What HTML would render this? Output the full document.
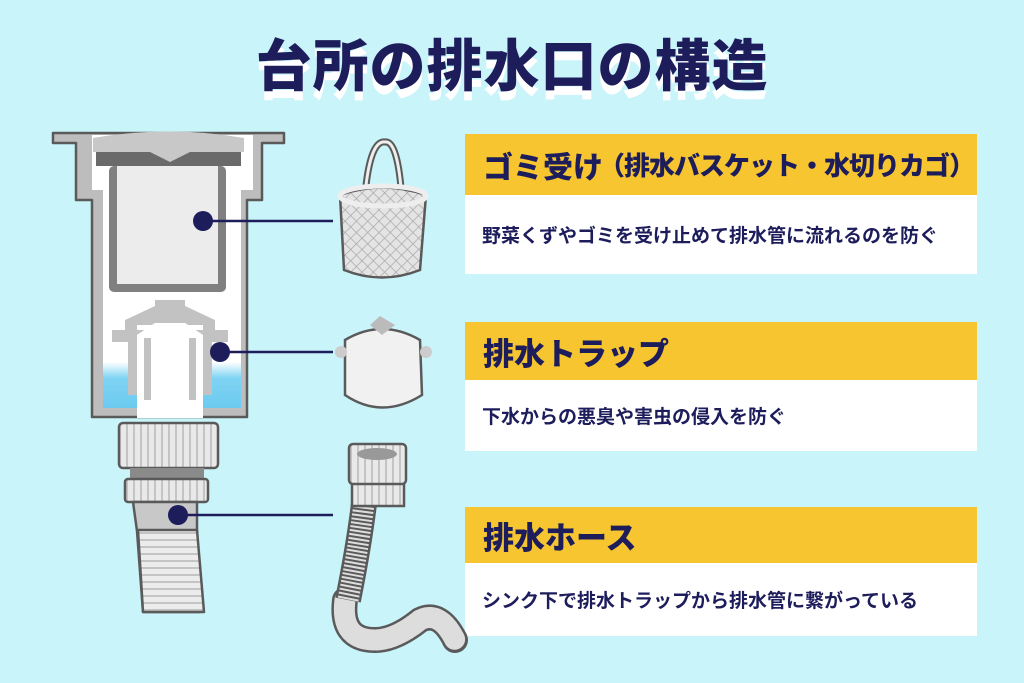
<!DOCTYPE html>
<html><head><meta charset="utf-8"><style>
html,body{margin:0;padding:0}
body{width:1024px;height:683px;background:#c9f4f9;position:relative;overflow:hidden;font-family:"Liberation Sans","Noto Sans CJK JP",sans-serif}
.title{position:absolute;left:0;width:1024px;top:22px;text-align:center;font-size:56px;font-weight:900;color:#1e1d5c;letter-spacing:1px;text-shadow:0 9px 0 #fff}
.hd{position:absolute;left:465px;width:512px;background:#f6c52f;color:#1e1d5c;font-weight:900;box-sizing:border-box;padding-left:18px;display:flex;align-items:center;white-space:nowrap}
.bd{position:absolute;left:465px;width:512px;background:#fff;color:#1e1d5c;font-size:19px;font-weight:bold;box-sizing:border-box;padding-left:17px;display:flex;align-items:center;white-space:nowrap}
</style></head><body>
<div class="title">台所の排水口の構造</div>

<div class="hd" style="top:134px;height:61px;font-size:30px">ゴミ受け<span style="font-size:26px;letter-spacing:-1px;margin-left:-4px">（排水バスケット・水切りカゴ）</span></div>
<div class="bd" style="top:195px;height:79px">野菜くずやゴミを受け止めて排水管に流れるのを防ぐ</div>

<div class="hd" style="top:322px;height:58px;font-size:31px">排水トラップ</div>
<div class="bd" style="top:380px;height:71px">下水からの悪臭や害虫の侵入を防ぐ</div>

<div class="hd" style="top:507px;height:56px;font-size:31px">排水ホース</div>
<div class="bd" style="top:563px;height:73px">シンク下で排水トラップから排水管に繋がっている</div>

<svg width="1024" height="683" style="position:absolute;left:0;top:0">
<defs>
<linearGradient id="w" x1="0" y1="0" x2="0" y2="1"><stop offset="0" stop-color="#fff"/><stop offset="0.35" stop-color="#7fd3f3"/><stop offset="1" stop-color="#6ccaf0"/></linearGradient>
<pattern id="mesh" width="8" height="8" patternUnits="userSpaceOnUse" patternTransform="rotate(45)"><rect width="8" height="8" fill="#e4e4e4"/><path d="M0 0H8M0 0V8" stroke="#aaa" stroke-width="1.5"/></pattern>
<pattern id="rib" width="7" height="10" patternUnits="userSpaceOnUse"><rect width="7" height="10" fill="#e9e9e9"/><rect width="2" height="10" fill="#c4c4c4"/></pattern>
<pattern id="hrib" width="10" height="7" patternUnits="userSpaceOnUse"><rect width="10" height="7" fill="#ececec"/><rect width="10" height="2" fill="#c4c4c4"/></pattern>
</defs>
<g stroke="#5a5a5a" stroke-width="2.5" stroke-linejoin="round">
<path d="M53 133 H284 V143 H262 V200 H247 V417 H92 V200 H76 V143 H53 Z" fill="#bdbdbd"/>
<path d="M92 135 H253 V190 H241 V408 H103 V190 H92 Z" fill="#fff" stroke="none"/>
<rect x="103" y="362" width="138" height="46" fill="url(#w)" stroke="none"/>
<path d="M93 138 Q170 125 244 138 V152 H93 Z" fill="#c8c8c8" stroke="none"/>
<path d="M96 152 H241 V166 H96 Z" fill="#6a6a6a" stroke="none"/>
<path d="M150 152 L170 162 L190 152 Z" fill="#c8c8c8" stroke="none"/>
<rect x="109" y="166" width="117" height="126" rx="5" fill="#808080" stroke="none"/>
<rect x="117" y="166" width="101" height="118" fill="#ececec" stroke="none"/>
<path d="M155 300 H185 V306 L215 320 L215 330 H228 V342 H212 V395 H203 V335 L185 323 H155 L137 335 V395 H128 V342 H112 V330 H125 L125 320 L155 306 Z" fill="#c2c2c2" stroke="none"/>
<rect x="137" y="325" width="66" height="5" fill="#fff" stroke="none"/>
<path d="M137 335 L155 323 H185 L203 335 V418 H137 Z" fill="#fff" stroke="none"/>
<rect x="144" y="338" width="7" height="62" fill="#c2c2c2" stroke="none"/>
<rect x="189" y="338" width="7" height="62" fill="#c2c2c2" stroke="none"/>
<rect x="119" y="423" width="99" height="45" rx="4" fill="url(#rib)"/>
<rect x="130" y="468" width="74" height="12" fill="#8a8a8a" stroke="none"/>
<rect x="125" y="479" width="83" height="23" rx="3" fill="url(#rib)"/>
<path d="M133 502 H197 V531 L200 612 H143 L137 531 Z" fill="#c8c8c8"/>
<path d="M138 530 H197 L204 612 H143 Z" fill="url(#hrib)"/>
</g>
<g stroke="#1e1d5c" stroke-width="2.5"><line x1="203" y1="221" x2="333" y2="221"/><line x1="220" y1="352" x2="333" y2="352"/><line x1="178" y1="515" x2="333" y2="515"/></g>
<g fill="#1e1d5c"><circle cx="203" cy="221" r="10"/><circle cx="220" cy="352" r="10"/><circle cx="178" cy="515" r="10"/></g>

<g stroke="#5a5a5a" stroke-width="2.5" fill="none">
<path d="M365 195 Q370 140 385 142 Q398 140 402 200" stroke-width="7" stroke="#5a5a5a"/>
<path d="M365 195 Q370 140 385 142 Q398 140 402 200" stroke-width="3" stroke="#eee"/>
<path d="M340 195 Q382 180 426 195 L420 270 Q382 285 344 270 Z" fill="url(#mesh)"/>
<ellipse cx="383" cy="196" rx="43" ry="10" fill="none" stroke="#eee" stroke-width="5"/>
</g>
<g stroke="#5a5a5a" stroke-width="2.5">
<path d="M345 340 Q382 318 420 340 L422 395 Q382 420 345 395 Z" fill="#f1f1f1"/>
<path d="M370 325 L380 316 L395 325 L382 335 Z" fill="#bbb" stroke="none"/>
<ellipse cx="341" cy="352" rx="6" ry="6" fill="#ccc" stroke="none"/>
<ellipse cx="426" cy="352" rx="6" ry="6" fill="#ccc" stroke="none"/>
</g>
<g stroke="#5a5a5a" stroke-width="2.5">
<path d="M345 600 Q340 640 375 640 Q395 640 420 620 Q440 610 455 640" fill="none" stroke="#5a5a5a" stroke-width="26" stroke-linecap="round"/>
<path d="M345 600 Q340 640 375 640 Q395 640 420 620 Q440 610 455 640" fill="none" stroke="#ddd" stroke-width="21" stroke-linecap="round" stroke-dasharray="2 2"/>
<path d="M365 495 Q360 540 348 600" fill="none" stroke="#5a5a5a" stroke-width="26"/>
<path d="M365 495 Q360 540 348 600" fill="none" stroke="#ddd" stroke-width="21" stroke-dasharray="2 2"/>
<rect x="352" y="482" width="52" height="24" fill="url(#rib)"/>
<rect x="349" y="444" width="57" height="40" rx="4" fill="url(#rib)"/>
<ellipse cx="377" cy="454" rx="20" ry="6" fill="#999" stroke="none"/>
</g>
</svg>
</body></html>
